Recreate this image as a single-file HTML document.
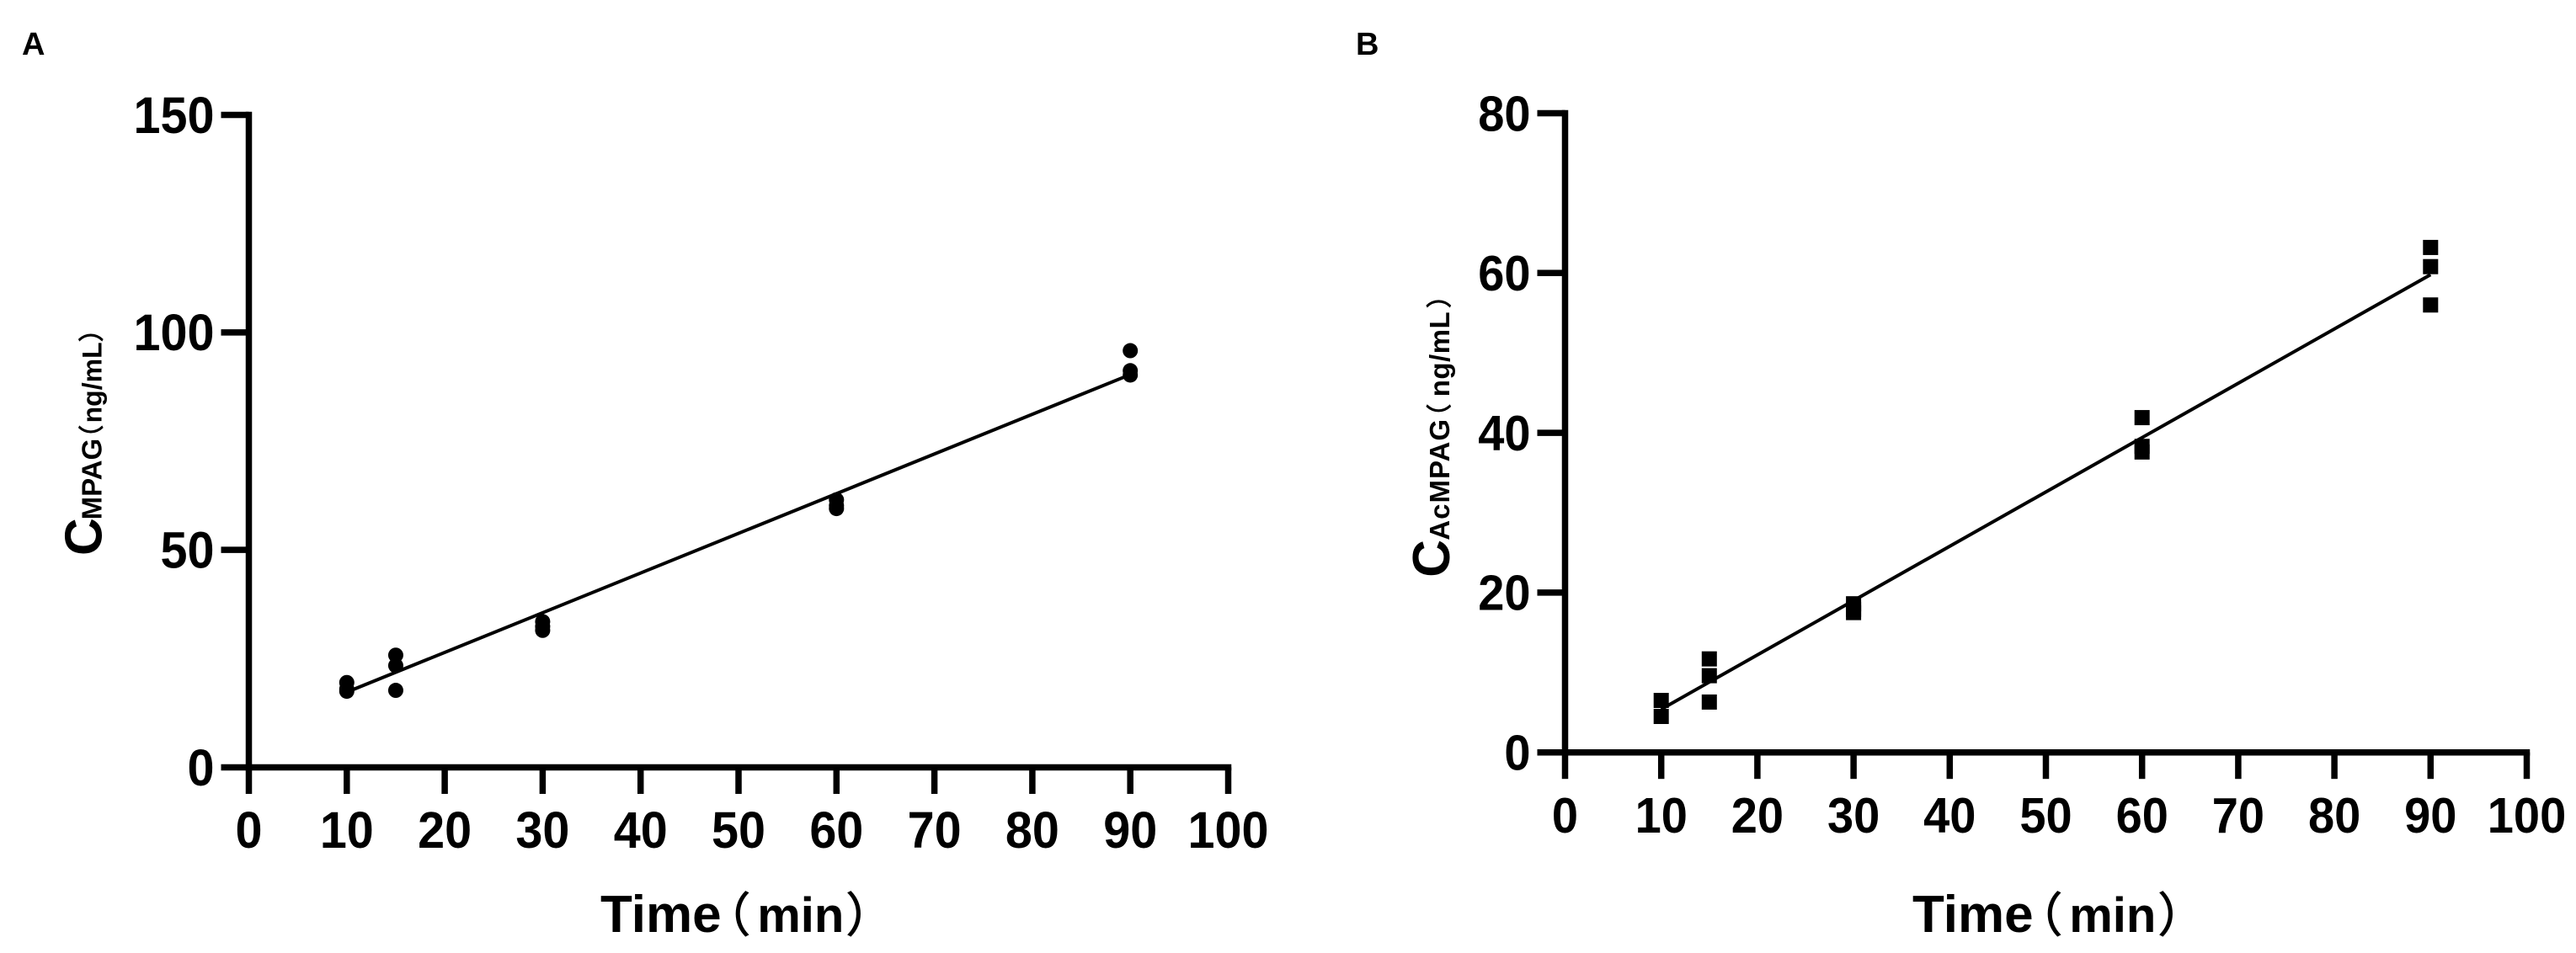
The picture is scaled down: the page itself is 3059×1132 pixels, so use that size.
<!DOCTYPE html>
<html lang="en">
<head>
<meta charset="utf-8">
<title>MPAG and AcMPAG concentration versus time</title>
<style>
html,body{margin:0;padding:0;background:#fff;width:3059px;height:1132px;overflow:hidden}
svg{display:block}
text{font-family:"Liberation Sans","Noto Sans CJK SC",sans-serif;font-weight:700;fill:#000}
.paren{font-weight:400;stroke:#000;stroke-width:1px}
</style>
</head>
<body>
<svg id="figure" xmlns="http://www.w3.org/2000/svg" width="3059" height="1132" viewBox="0 0 3059 1132">
  <text x="26" y="65" font-size="38">A</text>
  <text x="1610" y="65" font-size="38">B</text>
  <text x="713" y="1107" font-size="62">Time<tspan class="paren" font-size="56" dx="-21.4">（</tspan><tspan font-size="58" dx="8">min</tspan><tspan class="paren" font-size="56" dx="2">）</tspan></text>
  <text x="2271" y="1107" font-size="62">Time<tspan class="paren" font-size="56" dx="-21.4">（</tspan><tspan font-size="58" dx="8">min</tspan><tspan class="paren" font-size="56" dx="2">）</tspan></text>
  <text transform="translate(120.5 660) rotate(-90)"><tspan font-size="62">C</tspan><tspan font-size="33" dx="-2.2">MPAG</tspan><tspan class="paren" font-size="30" dx="-14" dy="-1">（</tspan><tspan font-size="32" dx="2.5" dy="1">ng/mL</tspan><tspan class="paren" font-size="30" dx="0.3" dy="-1">）</tspan></text>
  <text transform="translate(1721 685.7) rotate(-90)"><tspan font-size="62">C</tspan><tspan font-size="33" dx="-0.8" letter-spacing="1">AcMPAG</tspan><tspan class="paren" font-size="30" dx="-12.8" dy="-1">（</tspan><tspan font-size="33" dx="8.5" dy="1" letter-spacing="0.5">ng/mL</tspan><tspan class="paren" font-size="30" dx="3.8" dy="-1">）</tspan></text>
</svg>
<script>
const xTickValues = [0, 10, 20, 30, 40, 50, 60, 70, 80, 90, 100];
const yTickValuesA = [0, 50, 100, 150];
const yTickValuesB = [0, 20, 40, 60, 80];

const timesA = [10, 10, 10, 15, 15, 15, 30, 30, 30, 60, 60, 60, 90, 90, 90];
const valuesA = [19.5, 18, 17.5, 25.8, 23.4, 17.7, 33.5, 32.4, 31.5, 61.5, 60.2, 59.5, 95.8, 91.2, 90.2];
const fitTimesA = [10, 90];
const fitValuesA = [17.3, 90.3];

const timesB = [10, 10, 15, 15, 15, 30, 30, 30, 60, 60, 60, 90, 90, 90];
const valuesB = [6.5, 4.5, 11.7, 9.6, 6.3, 18.6, 17.9, 17.5, 41.9, 38.3, 37.6, 63.2, 60.8, 56];
const fitTimesB = [10, 90];
const fitValuesB = [5.4, 59.8];

const SVG_NS = 'http://www.w3.org/2000/svg';
const figure = document.getElementById('figure');

function make(tag, attrs) {
  const node = document.createElementNS(SVG_NS, tag);
  for (const key in attrs) node.setAttribute(key, attrs[key]);
  figure.appendChild(node);
  return node;
}

function drawPanel(panel) {
  const xScale = v => panel.x0 + (v / 100) * (panel.x100 - panel.x0);
  const yScale = v => panel.y0 + (v / panel.yMax) * (panel.yTop - panel.y0);
  const axisW = 7.5;
  const stretch = 1.06;

  const yAxis = make('line', {x1: xScale(0), x2: xScale(0), y1: yScale(panel.yMax) - axisW / 2, y2: panel.y0 + axisW / 2, stroke: '#000', 'stroke-width': axisW});
  
  

  const xAxis = make('line', {x1: xScale(0) - axisW / 2, x2: xScale(100) + axisW / 2, y1: panel.y0, y2: panel.y0, stroke: '#000', 'stroke-width': axisW});
  
  

  panel.xTicks.forEach(v => {
    const tick = make('line', {x1: xScale(v), x2: xScale(v), y1: panel.y0, y2: panel.y0 + 31.5, stroke: '#000', 'stroke-width': axisW});
    
    
    const label = make('text', {transform: 'translate(' + xScale(v) + ' ' + (panel.y0 + 95.5) + ') scale(1 ' + stretch + ')', 'font-size': panel.labelFont, 'text-anchor': 'middle'});
    label.textContent = String(v);
    
    
  });

  panel.yTicks.forEach(v => {
    const tick = make('line', {x1: xScale(0) - 33, x2: xScale(0), y1: yScale(v), y2: yScale(v), stroke: '#000', 'stroke-width': axisW});
    
    
    const baseline = yScale(v) + panel.labelFont * 0.35 * stretch;
    const label = make('text', {transform: 'translate(' + (xScale(0) - 41) + ' ' + baseline + ') scale(1 ' + stretch + ')', 'font-size': panel.labelFont, 'text-anchor': 'end'});
    label.textContent = String(v);
    
    
  });

  const fit = make('line', {x1: xScale(panel.fitX[0]), y1: yScale(panel.fitY[0]), x2: xScale(panel.fitX[1]), y2: yScale(panel.fitY[1]), stroke: '#000', 'stroke-width': 4});
  
  

  panel.times.forEach((t, i) => {
    const v = panel.values[i];
    let mark;
    if (panel.marker === 'circle') {
      mark = make('circle', {cx: xScale(t), cy: yScale(v), r: 9, fill: '#000'});
    } else {
      mark = make('rect', {x: xScale(t) - 9, y: yScale(v) - 9, width: 18, height: 18, fill: '#000'});
    }
    
    
  });
}

drawPanel({id: 'panel-a', marker: 'circle', labelFont: 57.5, x0: 295.5, x100: 1458.5, y0: 911.5, yTop: 136.5, yMax: 150,
  xTicks: xTickValues, yTicks: yTickValuesA, times: timesA, values: valuesA, fitX: fitTimesA, fitY: fitValuesA});
drawPanel({id: 'panel-b', marker: 'square', labelFont: 56, x0: 1858.5, x100: 3000.5, y0: 893.7, yTop: 134.5, yMax: 80,
  xTicks: xTickValues, yTicks: yTickValuesB, times: timesB, values: valuesB, fitX: fitTimesB, fitY: fitValuesB});
</script>
</body>
</html>
